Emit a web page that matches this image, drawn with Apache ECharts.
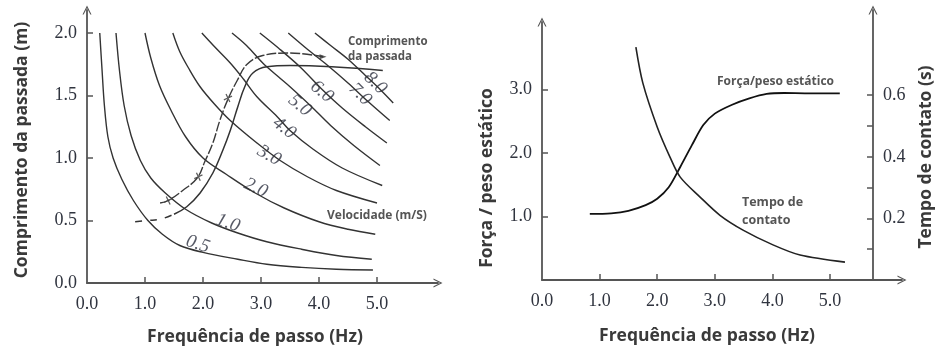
<!DOCTYPE html>
<html>
<head>
<meta charset="utf-8">
<script src="https://cdn.jsdelivr.net/npm/echarts@6/dist/echarts.min.js"></script>
<style>
  html, body { margin: 0; padding: 0; background: #ffffff; }
  #chart { width: 936px; height: 349px; }
</style>
</head>
<body>
<div id="chart"></div>
<script>
// ---------- data: left panel (stride length vs step frequency) ----------
const speedLevels = [0.5, 1.0, 2.0, 3.0, 4.0, 5.0, 6.0, 7.0, 8.0];

const speed05 = [[0.22,2.0],[0.26,1.7],[0.30,1.42],[0.36,1.17],[0.45,1.0],[0.60,0.83],[0.80,0.66],[1.05,0.50],[1.30,0.39],[1.60,0.30],[2.0,0.245],[2.6,0.19],[3.1,0.15],[3.7,0.125],[4.3,0.11],[4.93,0.104]];
const speed10 = [[0.50,2.0],[0.56,1.7],[0.64,1.42],[0.76,1.18],[0.92,0.98],[1.10,0.84],[1.35,0.72],[1.70,0.59],[2.15,0.48],[2.60,0.40],[3.10,0.33],[3.70,0.27],[4.30,0.22],[4.91,0.19]];
const speed20 = [[1.0,2.0],[1.1,1.8],[1.25,1.58],[1.45,1.38],[1.7,1.17],[2.0,1.0],[2.4,0.87],[2.9,0.72],[3.4,0.6],[4.0,0.49],[4.5,0.43],[4.97,0.39]];
const speed30 = [[1.48,2.0],[1.6,1.85],[1.75,1.72],[1.95,1.57],[2.2,1.43],[2.47,1.3],[2.93,1.12],[3.33,0.98],[3.8,0.85],[4.3,0.74],[5.0,0.64]];
const speed40 = [[1.98,2.0],[2.2,1.89],[2.47,1.76],[2.7,1.63],[2.93,1.49],[3.28,1.33],[3.5,1.22],[3.9,1.07],[4.4,0.92],[5.09,0.78]];
const speed50 = [[2.5,2.0],[2.75,1.9],[3.03,1.76],[3.3,1.65],[3.5,1.57],[3.85,1.42],[4.2,1.26],[4.6,1.1],[5.05,0.94]];
const speed60 = [[2.98,2.0],[3.3,1.88],[3.67,1.73],[4.05,1.55],[4.4,1.40],[4.8,1.25],[5.17,1.12]];
const speed70 = [[3.47,2.0],[3.8,1.87],[4.15,1.74],[4.5,1.6],[4.85,1.45],[5.22,1.30]];
const speed80 = [[3.93,2.0],[4.2,1.9],[4.5,1.79],[4.8,1.66],[5.05,1.55],[5.28,1.44]];
const speedCurves = [speed05, speed10, speed20, speed30, speed40, speed50, speed60, speed70, speed80];

// stride length paths (upper one ends in an arrow, lower one starts dashed)
const strideUpper = [[1.26,0.64],[1.40,0.66],[1.65,0.74],[1.90,0.84],[2.03,0.97],[2.17,1.12],[2.29,1.30],[2.43,1.47],[2.59,1.62],[2.76,1.75],[3.03,1.82],[3.5,1.84],[4.07,1.81]];
const strideLowerStart = [[0.83,0.49],[1.05,0.50],[1.26,0.51],[1.50,0.55]];
const strideLower = [[1.50,0.55],[1.72,0.61],[1.95,0.72],[2.17,0.88],[2.34,1.06],[2.47,1.22],[2.60,1.41],[2.72,1.57],[2.86,1.68],[3.10,1.73],[3.50,1.74],[5.10,1.70]];
const strideMarks = [[1.40,0.66],[1.92,0.85],[2.43,1.48]];

const leftXTicks = [0, 1, 2, 3, 4, 5];
const leftYTicks = [0, 0.5, 1.0, 1.5, 2.0];

// ---------- data: right panel (force ratio and contact time) ----------
const forceRatio = [[0.83,1.04],[1.2,1.05],[1.5,1.09],[1.8,1.18],[2.0,1.28],[2.2,1.46],[2.4,1.78],[2.6,2.12],[2.8,2.44],[3.0,2.62],[3.3,2.76],[3.6,2.86],[3.9,2.93],[4.2,2.945],[4.6,2.94],[5.17,2.94]];
const contactTime = [[1.63,0.756],[1.75,0.64],[2.0,0.497],[2.22,0.40],[2.40,0.334],[2.74,0.27],[3.09,0.21],[3.49,0.162],[4.01,0.114],[4.48,0.081],[5.26,0.058]];

const rightXTicks = [0, 1, 2, 3, 4, 5];
const forceTicks = [1.0, 2.0, 3.0];
const timeLabels = [0.2, 0.4, 0.6];
const timeTicks = [0.1, 0.2, 0.3, 0.4, 0.5, 0.6];

// ---------- styling ----------
const AXIS = '#555555';
const INK = '#333333';
const NUM_FONT = 'Liberation Serif, serif';
const SANS = '"Open Sans", "Noto Sans", sans-serif';
const chevron = 'path://M0,12 L6,0 L12,12 L10.4,12 L6,3.2 L1.6,12 Z';

// where each speed label sits on its curve, and its tilt
const speedLabelAt = [[1.91,0.31],[2.43,0.48],[2.91,0.76],[3.14,1.02],[3.40,1.24],[3.67,1.42],[4.05,1.53],[4.71,1.51],[4.97,1.60]];
const speedLabelTilt = [-18, -20, -25, -30, -38, -40, -40, -45, -45];

function valueAxis(gridIndex, max, ticks, labels, extra) {
  return Object.assign({
    type: 'value', gridIndex: gridIndex, min: 0, max: max,
    axisLine: { show: true, onZero: false, lineStyle: { color: AXIS, width: 1.8 },
                symbol: ['none', chevron], symbolSize: [9, 9] },
    axisTick: { show: true, inside: true, length: 6, customValues: ticks,
                lineStyle: { color: AXIS, width: 1.5 } },
    axisLabel: { show: true, customValues: labels, margin: 10,
                 formatter: v => Number(v).toFixed(1),
                 fontFamily: NUM_FONT, fontSize: 18, color: '#30343f' },
    splitLine: { show: false }
  }, extra || {});
}

function curve(data, xi, yi, extra) {
  return Object.assign({
    type: 'line', xAxisIndex: xi, yAxisIndex: yi, data: data,
    smooth: 0.35, showSymbol: false, silent: true,
    lineStyle: { color: INK, width: 1.4 }
  }, extra || {});
}

const series = [];
speedCurves.forEach((c, i) => series.push(curve(c, 0, 0, { name: 'v' + speedLevels[i] })));

series.push({
  type: 'scatter', xAxisIndex: 0, yAxisIndex: 0, symbolSize: 0, silent: true,
  data: speedLevels.map((v, i) => ({
    value: [speedLabelAt[i][0], speedLabelAt[i][1], v],
    label: { rotate: speedLabelTilt[i] }
  })),
  label: {
    show: true, position: 'inside',
    formatter: p => p.value[2].toFixed(1),
    fontFamily: NUM_FONT, fontSize: 19, fontStyle: 'italic', color: '#2d3140'
  }
});

series.push(curve(strideUpper, 0, 0, { smooth: 0.4, lineStyle: { color: '#3a3a3a', width: 1.4, type: [10, 2] } }));
series.push(curve(strideLowerStart, 0, 0, { smooth: 0.4, lineStyle: { color: INK, width: 1.5, type: [7, 8] } }));
series.push(curve(strideLower, 0, 0, { smooth: 0.4, lineStyle: { color: INK, width: 1.5 } }));
series.push({
  type: 'scatter', xAxisIndex: 0, yAxisIndex: 0, silent: true,
  data: strideMarks, symbol: 'path://M4.3,0 L5.7,0 L5.7,4.3 L10,4.3 L10,5.7 L5.7,5.7 L5.7,10 L4.3,10 L4.3,5.7 L0,5.7 L0,4.3 L4.3,4.3 Z',
  symbolSize: 9, symbolRotate: 25, itemStyle: { color: INK }
});
series.push({
  type: 'scatter', xAxisIndex: 0, yAxisIndex: 0, silent: true,
  data: [strideUpper[strideUpper.length - 1]], symbol: 'triangle',
  symbolSize: [5, 7], symbolRotate: -90, itemStyle: { color: INK }
});

series.push(curve(forceRatio, 1, 1, { smooth: 0.3, lineStyle: { color: '#111111', width: 1.8 } }));
series.push(curve(contactTime, 2, 2, { smooth: 0.3, lineStyle: { color: '#222222', width: 1.6 } }));

function label(text, x, y, opts) {
  const o = opts || {};
  return {
    type: 'text', x: x, y: y, rotation: o.rotation || 0, silent: true,
    style: {
      text: text, fill: o.fill || '#3a3a3a',
      font: (o.weight || 'bold') + ' ' + (o.size || 17) + 'px ' + SANS,
      align: o.align || 'center', verticalAlign: 'middle',
      textAlign: o.align || 'center', textVerticalAlign: 'middle'
    }
  };
}

const chart = echarts.init(document.getElementById('chart'), null, { renderer: 'canvas' });
chart.setOption({
  animation: false,
  backgroundColor: '#ffffff',
  grid: [
    { left: 87, top: 10, width: 351, height: 273 },
    { left: 542, top: 22, width: 360, height: 258 },
    { left: 542, top: 10, width: 331, height: 270 }
  ],
  xAxis: [
    valueAxis(0, 351 / 58, [1, 2, 3, 4, 5], leftXTicks, { axisLabel: { show: true, customValues: leftXTicks, margin: 12, formatter: v => Number(v).toFixed(1), fontFamily: NUM_FONT, fontSize: 18, color: '#30343f' } }),
    valueAxis(1, 360 / 57.6, [1, 2, 3, 4, 5], rightXTicks, { axisLabel: { show: true, customValues: rightXTicks, margin: 12, formatter: v => Number(v).toFixed(1), fontFamily: NUM_FONT, fontSize: 18, color: '#30343f' } }),
    { type: 'value', gridIndex: 2, min: 0, max: 331 / 57.6, show: false }
  ],
  yAxis: [
    valueAxis(0, 273 / 125, [0.5, 1.0, 1.5, 2.0], leftYTicks),
    valueAxis(1, 258 / 63.5, forceTicks, forceTicks),
    valueAxis(2, 270 / 308, timeTicks, timeLabels, { position: 'right' })
  ],
  series: series,
  graphic: [
    label('Comprimento da passada (m)', 22, 150, { rotation: Math.PI / 2, size: 17.5 }),
    label('Frequência de passo (Hz)', 255, 337, { size: 17.5 }),
    label('Comprimento', 348, 42, { align: 'left', size: 11.5, fill: '#555555' }),
    label('da passada', 348, 57, { align: 'left', size: 11.5, fill: '#555555' }),
    label('Velocidade (m/S)', 327, 216, { align: 'left', size: 12, fill: '#555555' }),
    label('Força / peso estático', 487, 178, { rotation: Math.PI / 2, size: 17.5 }),
    label('Tempo de contato (s)', 926, 157, { rotation: Math.PI / 2, size: 17.5 }),
    label('Frequência de passo (Hz)', 707, 336, { size: 17.5 }),
    label('Força/peso estático', 717, 82, { align: 'left', size: 12, fill: '#555555' }),
    label('Tempo de', 742, 202, { align: 'left', size: 12.5, fill: '#555555' }),
    label('contato', 742, 220, { align: 'left', size: 12.5, fill: '#555555' })
  ]
});
</script>
</body>
</html>
